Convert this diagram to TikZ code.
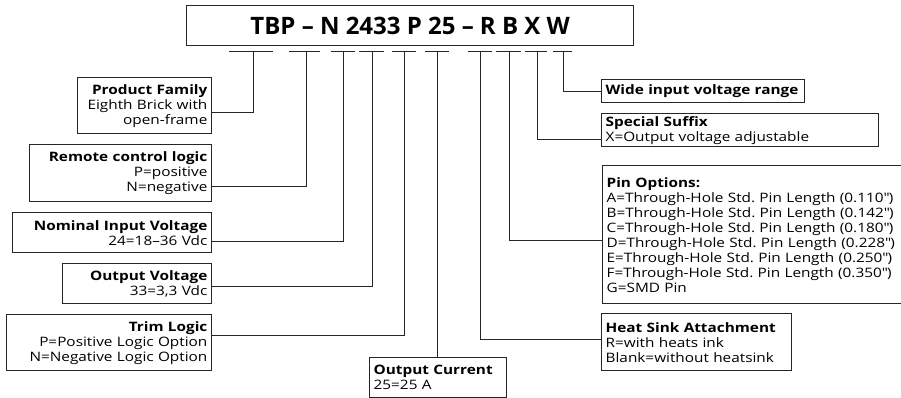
\documentclass[tikz,border=0pt]{standalone}
\usepackage{fontspec}
\setmainfont{Open Sans}
\newfontfamily\bodyfont[FakeStretch=1.18]{Open Sans}
\usetikzlibrary{positioning, calc}
\definecolor{cline}{HTML}{262626}
\tikzset{
  every picture/.style={line width=1pt},
  box/.style={draw=cline, line width=1.3pt, inner xsep=4pt, inner ysep=1pt, font=\bodyfont\fontsize{13}{15}\selectfont\frenchspacing},
  lbox/.style={box, align=right, anchor=north east},
  rbox/.style={box, align=left, anchor=north west},
  lead/.style={draw=cline, line width=1pt},
  title/.style={draw=cline, line width=1.3pt, font=\fontsize{24}{28}\selectfont\bfseries},
}

\begin{document}
\begin{tikzpicture}[x=1pt, y=-1pt]
  \useasboundingbox (0,0) rectangle (901,398);
  \node[title, anchor=north west, minimum width=447pt, minimum height=40pt] (code) at (186,5) {TBP – N 2433 P 25 – R B X W};
  % underlines below the code letters
  \foreach \n/\a/\b/\v in {1/229/273/253, 2/289/320/306, 3/331/355/343, 4/359/384/372, 5/392/416/404,
                           6/425/449/437, 7/468/492/480, 8/496/521/509, 9/525/547/537, 10/553/572/563} {
    \coordinate (u\n) at (\v,52);
    \draw[lead] (\a,52) -- (\b,52);
  }
  % left hand boxes
  \node[lbox, text width=126pt, minimum height=56pt] (fam) at (212,77) {\textbf{Product Family}\\Eighth Brick with\\open-frame};
  \node[lbox, text width=174pt, minimum height=57pt] (rem) at (212,144) {\textbf{Remote control logic}\\P=positive\\N=negative};
  \node[lbox, text width=191pt, minimum height=40pt] (nom) at (212,212) {\textbf{Nominal Input Voltage}\\24=18–36 Vdc};
  \node[lbox, text width=141pt, minimum height=40pt] (outv) at (212,263) {\textbf{Output Voltage}\\33=3,3 Vdc};
  \node[lbox, text width=197pt, minimum height=56pt] (trim) at (212,314) {\textbf{Trim Logic}\\P=Positive Logic Option\\N=Negative Logic Option};
  \node[rbox, text width=129pt, minimum height=40pt] (cur) at (369,357) {\textbf{Output Current}\\25=25 A};
  % right hand boxes
  \node[rbox, text width=195pt, minimum height=23pt] (wide) at (601,79) {\textbf{Wide input voltage range}};
  \node[rbox, text width=269pt, minimum height=33pt] (spec) at (601,113) {\textbf{Special Suffix}\\X=Output voltage adjustable};
  \node[rbox, text width=296pt, minimum height=138pt] (pin) at (602,165) {\textbf{Pin Options:}\\
    A=Through-Hole Std. Pin Length (0.110\textquotedbl)\\B=Through-Hole Std. Pin Length (0.142\textquotedbl)\\
    C=Through-Hole Std. Pin Length (0.180\textquotedbl)\\D=Through-Hole Std. Pin Length (0.228\textquotedbl)\\
    E=Through-Hole Std. Pin Length (0.250\textquotedbl)\\F=Through-Hole Std. Pin Length (0.350\textquotedbl)\\G=SMD Pin};
  \node[rbox, text width=182pt, minimum height=57pt] (heat) at (601,313) {\textbf{Heat Sink Attachment}\\R=with heats ink\\Blank=without heatsink};
  % leads
  \draw[lead] (u1) |- ([yshift=-7pt]fam.east);
  \draw[lead] (u2) |- ([yshift=-13.5pt]rem.east);
  \draw[lead] (u3) |- ([yshift=-9pt]nom.east);
  \draw[lead] (u4) |- ([yshift=-3pt]outv.east);
  \draw[lead] (u5) |- ([yshift=7pt]trim.east);
  \draw[lead] (u6) -- (u6 |- cur.north);
  \draw[lead] (u7) |- ([yshift=2.5pt]heat.west);
  \draw[lead] (u8) |- ([yshift=-6pt]pin.west);
  \draw[lead] (u9) |- ([yshift=-9.5pt]spec.west);
  \draw[lead] (u10) |- (wide.west);
\end{tikzpicture}
\end{document}
